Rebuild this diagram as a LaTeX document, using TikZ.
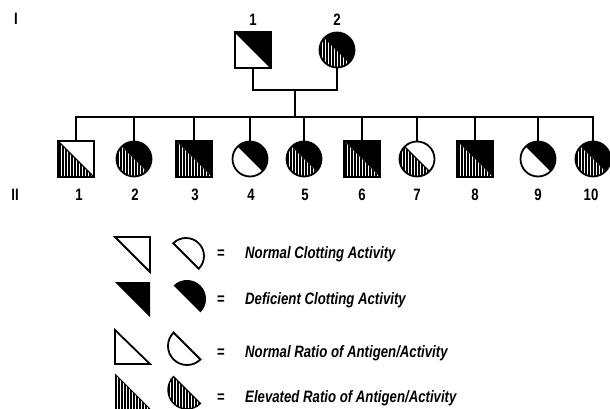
\documentclass[tikz,border=0pt]{standalone}
\usepackage{fontspec}
\newfontfamily\cf{Liberation Sans}[FakeStretch=0.8]
\newcommand\sqtop[1]{\fill (#1.north west) -- (#1.north east) -- (#1.south east) -- cycle;}
\newcommand\sqhatch[1]{\begin{scope}\clip (#1.north west) -- (#1.south west) -- (#1.south east) -- cycle;
  \foreach \k in {1,...,12} \draw[hl] ([xshift=\k*3pt-1.5pt]#1.south west) -- ++(0,40);\end{scope}}
\newcommand\sqdiag[1]{\draw[line width=1.2pt] (#1.north west) -- (#1.south east);}
\newcommand\sqout[1]{\draw[outl] (#1.north west) rectangle (#1.south east);}
\newcommand\citop[1]{\fill (#1.center) ++(135:17.5pt) arc[start angle=135,end angle=-45,radius=17.5pt] -- cycle;}
\newcommand\cihatch[1]{\begin{scope}\clip (#1.center) ++(135:17.5pt) arc[start angle=135,end angle=315,radius=17.5pt] -- cycle;
  \foreach \k in {1,...,12} \draw[hl] ([xshift=\k*3pt-19pt,yshift=-20pt]#1.center) -- ++(0,40);\end{scope}}
\newcommand\cidiag[1]{\draw[line width=1.2pt] (#1.center) ++(135:17.5pt) -- ++(-45:35pt);}
\newcommand\ciout[1]{\draw[outl] (#1.center) circle[radius=17.5pt];}
\begin{document}
\begin{tikzpicture}[x=1pt,y=1pt,
  sym/.style={draw=none,inner sep=0pt,minimum size=35pt},
  sqs/.style={sym,rectangle},
  cis/.style={sym,circle},
  lbl/.style={font=\cf\bfseries\fontsize{16.5}{16.5}\selectfont,inner sep=0pt},
  leg/.style={font=\cf\bfseries\itshape\fontsize{16.5}{16.5}\selectfont,inner sep=0pt,anchor=west},
  outl/.style={line width=1.8pt,line join=miter},
  con/.style={line width=1.6pt},
  hl/.style={line width=1.5pt}]
\useasboundingbox (0,0) rectangle (610,-409);
% generation labels
\node[lbl] (gI) at (16,-19) {I};
\node[lbl] (gII) at (15,-195) {II};
% generation I
\node[sqs] (I1) at (253,-50) {};
\node[cis] (I2) at (337,-50) {};
\node[lbl] (lI1) at (253,-20) {1};
\node[lbl] (lI2) at (337,-20) {2};
\coordinate (m) at (295,-90);
\coordinate (s) at (295,-117);
% generation II
\node[sqs] (II1) at (76,-159) {};
\node[cis] (II2) at (134,-159) {};
\node[sqs] (II3) at (194,-159) {};
\node[cis] (II4) at (250,-159) {};
\node[cis] (II5) at (304,-159) {};
\node[sqs] (II6) at (362,-159) {};
\node[cis] (II7) at (417,-159) {};
\node[sqs] (II8) at (475,-159) {};
\node[cis] (II9) at (538,-159) {};
\node[cis] (II10) at (593,-159) {};
\foreach \n/\x in {1/79,2/135,3/195,4/251,5/305,6/362,7/417,8/475,9/538,10/591}
  \node[lbl] (lII\n) at (\x,-195) {\n};
% connectors
\draw[con] (I1.south) |- (m) -| (I2.south);
\draw[con] (m) -- (s);
\draw[con] (II1.north) |- (s) -| (II10.north);
\foreach \n in {2,...,9} \draw[con] (II\n.north) -- (II\n.north |- s);
% symbols
\sqtop{I1}\sqdiag{I1}\sqout{I1}
\cihatch{I2}\citop{I2}\cidiag{I2}\ciout{I2}
\sqhatch{II1}\sqdiag{II1}\sqout{II1}
\cihatch{II2}\citop{II2}\ciout{II2}
\sqhatch{II3}\sqtop{II3}\sqout{II3}
\citop{II4}\ciout{II4}
\cihatch{II5}\citop{II5}\ciout{II5}
\sqhatch{II6}\sqtop{II6}\sqout{II6}
\cihatch{II7}\cidiag{II7}\ciout{II7}
\sqhatch{II8}\sqtop{II8}\sqout{II8}
\citop{II9}\ciout{II9}
\cihatch{II10}\citop{II10}\ciout{II10}
% legend
\draw[outl] (115,-237) -- (150,-237) -- (150,-272) -- cycle;
\draw[outl] (186,-256) ++(135:18pt) arc[start angle=135,end angle=-45,radius=18pt] -- cycle;
\fill (115,-282) -- (150,-282) -- (150,-317) -- cycle;
\fill (187,-299) ++(135:19pt) arc[start angle=135,end angle=-45,radius=19pt] -- cycle;
\draw[outl] (115,-330) -- (115,-364) -- (150,-364) -- cycle;
\draw[outl] (187,-346) ++(135:19pt) arc[start angle=135,end angle=315,radius=19pt] -- cycle;
\begin{scope}
  \clip (115,-374) -- (115,-409) -- (150,-409) -- cycle;
  \foreach \k in {0,...,11} \draw[hl] (115.8+\k*3,-374) -- ++(0,-36);
\end{scope}
\draw[line width=1pt] (115,-374) -- (150,-409);
\begin{scope}
  \clip (187,-390) ++(135:19pt) arc[start angle=135,end angle=315,radius=19pt] -- cycle;
  \foreach \k in {0,...,13} \draw[hl] (168.8+\k*3,-370) -- ++(0,-40);
\end{scope}
\draw[line width=1.4pt] (187,-390) ++(135:19pt) arc[start angle=135,end angle=315,radius=19pt] -- cycle;
\node[lbl] (e1) at (221,-254) {=};
\node[lbl] (e2) at (221,-300) {=};
\node[lbl] (e3) at (221,-353) {=};
\node[lbl] (e4) at (221,-398) {=};
\node[leg] (t1) at (245,-254) {Normal Clotting Activity};
\node[leg] (t2) at (245,-300) {Deficient Clotting Activity};
\node[leg] (t3) at (245,-353) {Normal Ratio of Antigen/Activity};
\node[leg] (t4) at (245,-398) {Elevated Ratio of Antigen/Activity};
\end{tikzpicture}
\end{document}
